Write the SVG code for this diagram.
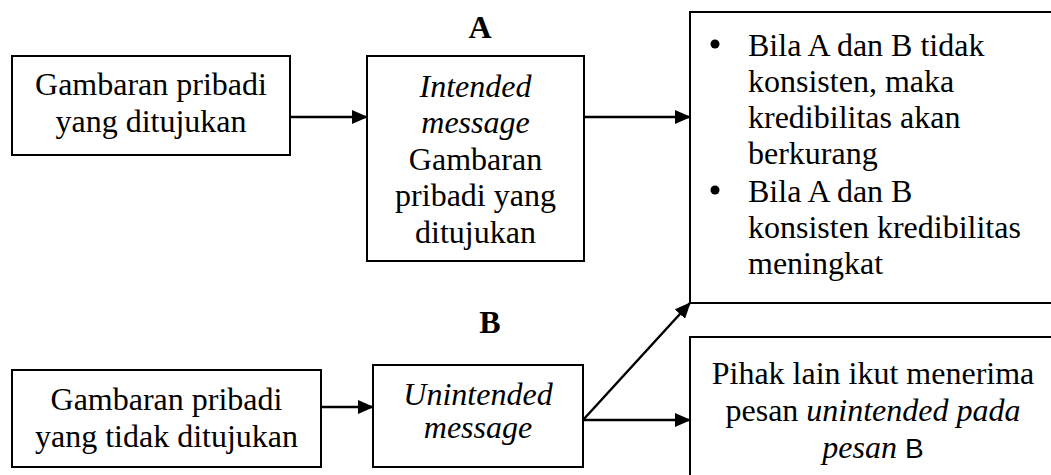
<svg xmlns="http://www.w3.org/2000/svg" width="1051" height="475" viewBox="0 0 1051 475">
<defs>
<style>
.box{fill:#fff;stroke:#000;stroke-width:2}
.t{font-family:"Liberation Serif","Times New Roman",serif;font-size:32px;fill:#000}
.c{text-anchor:middle}
.i{font-style:italic}
.b{font-weight:bold}
.s{font-family:"Liberation Sans",Arial,sans-serif;font-style:normal;font-size:28px}
.ln{stroke:#000;stroke-width:2.5;fill:none}
</style>
<marker id="ah" viewBox="0 0 16 14" refX="15" refY="7" markerWidth="16" markerHeight="14" markerUnits="userSpaceOnUse" orient="auto">
<path d="M0,0 L16,7 L0,14 Z" fill="#000"/>
</marker>
</defs>
<rect width="1051" height="475" fill="#fff"/>
<g id="labels">
<text class="t b c" x="480" y="38">A</text>
<text class="t b c" x="490" y="333">B</text>
</g>
<g id="n1">
<rect class="box" x="12" y="56" width="278" height="99"/>
<text class="t c" x="151" y="95">Gambaran pribadi</text>
<text class="t c" x="151" y="132">yang ditujukan</text>
</g>
<g id="n2">
<rect class="box" x="367" y="56" width="217" height="205"/>
<text class="t c i" x="475.5" y="97">Intended</text>
<text class="t c i" x="475.5" y="133">message</text>
<text class="t c" x="475.5" y="170">Gambaran</text>
<text class="t c" x="475.5" y="206">pribadi yang</text>
<text class="t c" x="475.5" y="243">ditujukan</text>
</g>
<g id="n3">
<rect class="box" x="690" y="12" width="370" height="291"/>
<circle cx="715" cy="44" r="4.5" fill="#000"/>
<circle cx="715" cy="190" r="4.5" fill="#000"/>
<text class="t" x="748" y="56">Bila A dan B tidak</text>
<text class="t" x="748" y="92">konsisten, maka</text>
<text class="t" x="748" y="128">kredibilitas akan</text>
<text class="t" x="748" y="164">berkurang</text>
<text class="t" x="748" y="202">Bila A dan B</text>
<text class="t" x="748" y="238">konsisten kredibilitas</text>
<text class="t" x="748" y="274">meningkat</text>
</g>
<g id="n4">
<rect class="box" x="12" y="370" width="309" height="97"/>
<text class="t c" x="166.5" y="410">Gambaran pribadi</text>
<text class="t c" x="166.5" y="447">yang tidak ditujukan</text>
</g>
<g id="n5">
<rect class="box" x="373" y="365" width="210" height="102"/>
<text class="t c i" x="478" y="405">Unintended</text>
<text class="t c i" x="478" y="438">message</text>
</g>
<g id="n6">
<rect class="box" x="690" y="337" width="370" height="160"/>
<text class="t c" x="873" y="384">Pihak lain ikut menerima</text>
<text class="t c" x="873" y="421">pesan <tspan class="i">unintended pada</tspan></text>
<text class="t c" x="873" y="458"><tspan class="i">pesan</tspan> <tspan class="s">B</tspan></text>
</g>
<g id="connectors">
<line class="ln" x1="290" y1="117" x2="367" y2="117" marker-end="url(#ah)"/>
<line class="ln" x1="584" y1="117" x2="690" y2="117" marker-end="url(#ah)"/>
<line class="ln" x1="321" y1="407" x2="373" y2="407" marker-end="url(#ah)"/>
<line class="ln" x1="583" y1="420" x2="690" y2="420" marker-end="url(#ah)"/>
<line class="ln" x1="583" y1="420" x2="690" y2="303" marker-end="url(#ah)"/>
</g>
</svg>
